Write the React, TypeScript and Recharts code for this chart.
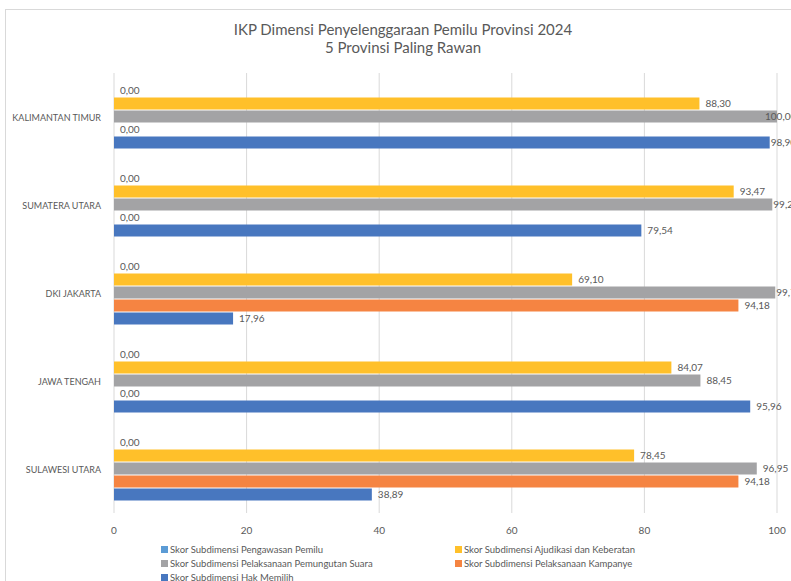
import React from 'react';
import { BarChart, Bar, XAxis, YAxis, CartesianGrid, LabelList } from 'recharts';

const provinces = ['KALIMANTAN TIMUR', 'SUMATERA UTARA', 'DKI JAKARTA', 'JAWA TENGAH', 'SULAWESI UTARA'];
const pengawasan = [0, 0, 0, 0, 0];
const ajudikasi = [88.3, 93.47, 69.1, 84.07, 78.45];
const pemungutan = [100.0, 99.29, 99.74, 88.45, 96.95];
const kampanye = [0, 0, 94.18, 0, 94.18];
const hakMemilih = [98.9, 79.54, 17.96, 95.96, 38.89];
const xTicks = [0, 20, 40, 60, 80, 100];

const seriesDefs = [
  { key: 'pengawasan', name: 'Skor Subdimensi Pengawasan Pemilu', color: '#5B9BD5', values: pengawasan },
  { key: 'ajudikasi', name: 'Skor Subdimensi Ajudikasi dan Keberatan', color: '#FFC02A', values: ajudikasi },
  { key: 'pemungutan', name: 'Skor Subdimensi Pelaksanaan Pemungutan Suara', color: '#A3A3A5', values: pemungutan },
  { key: 'kampanye', name: 'Skor Subdimensi Pelaksanaan Kampanye', color: '#F58442', values: kampanye },
  { key: 'hak', name: 'Skor Subdimensi Hak Memilih', color: '#4877BF', values: hakMemilih },
];

const data = provinces.map((p, i) => {
  const row: any = { name: p };
  seriesDefs.forEach((s) => (row[s.key] = s.values[i]));
  return row;
});

const FONT = 'Lato, "Liberation Sans", sans-serif';
const TXT = '#595959';

const fmt = (v: number) => v.toFixed(2).replace('.', ',');

const ValueLabel = (props: any) => {
  const { x, y, width, height, value } = props;
  const w = Math.abs(width) < 0.5 ? 0 : width;
  const end = x + w;
  let start = end + 6;
  if (end >= 776) start = end - 12;
  else if (end > 765) start = end + 1;
  return (
    <text x={start} y={y + height / 2} dy={3.5} fill={TXT} fontSize={10} fontFamily={FONT}>
      {fmt(value)}
    </text>
  );
};

const CategoryTick = (props: any) => {
  const { y, payload } = props;
  return (
    <text x={101} y={y} dy={3.5} textAnchor="end" fill={TXT} fontSize={9} fontFamily={FONT}>
      {payload.value}
    </text>
  );
};

const legendPos = [
  { left: 161, top: 544 },
  { left: 455, top: 544 },
  { left: 161, top: 558 },
  { left: 455, top: 558 },
  { left: 161, top: 572 },
];

export default function App() {
  return (
    <div style={{ position: 'fixed', left: 0, top: 0, width: 791, height: 581, overflow: 'hidden', background: '#fff', fontFamily: FONT }}>
      <div style={{ position: 'absolute', left: 5, top: 9, width: 800, height: 600, border: '1px solid #D9D9D9', boxSizing: 'border-box' }} />
      <div style={{ position: 'absolute', left: 5, width: 796, top: 20, textAlign: 'center', color: TXT, fontSize: 15, lineHeight: '18px' }}>
        <div>IKP Dimensi Penyelenggaraan Pemilu Provinsi 2024</div>
        <div>5 Provinsi Paling Rawan</div>
      </div>
      <div style={{ position: 'absolute', left: 0, top: 0 }}>
        <BarChart
          width={791}
          height={581}
          data={data}
          layout="vertical"
          margin={{ top: 73, right: 14, bottom: 48, left: 0 }}
          barCategoryGap="13%"
          barGap={1}
        >
          <CartesianGrid horizontal={false} stroke="#D9D9D9" />
          <XAxis
            type="number"
            domain={[0, 100]}
            ticks={xTicks}
            axisLine={false}
            tickLine={false}
            height={20}
            tick={{ fill: TXT, fontSize: 10, fontFamily: FONT }}
            tickMargin={8}
            interval={0}
          />
          <YAxis
            type="category"
            dataKey="name"
            width={114}
            axisLine={false}
            tickLine={false}
            tick={<CategoryTick />}
          />
          {seriesDefs.map((s) => (
            <Bar key={s.key} dataKey={s.key} name={s.name} fill={s.color} isAnimationActive={false} minPointSize={0.01}>
              <LabelList dataKey={s.key} content={<ValueLabel />} />
            </Bar>
          ))}
        </BarChart>
      </div>
      {seriesDefs.map((s, i) => (
        <div
          key={s.key}
          style={{ position: 'absolute', left: legendPos[i].left, top: legendPos[i].top, display: 'flex', alignItems: 'center', fontSize: 9.5, color: TXT, lineHeight: '11px', whiteSpace: 'nowrap' }}
        >
          <span style={{ width: 7, height: 7, background: s.color, display: 'inline-block', marginRight: 2 }} />
          {s.name}
        </div>
      ))}
    </div>
  );
}
